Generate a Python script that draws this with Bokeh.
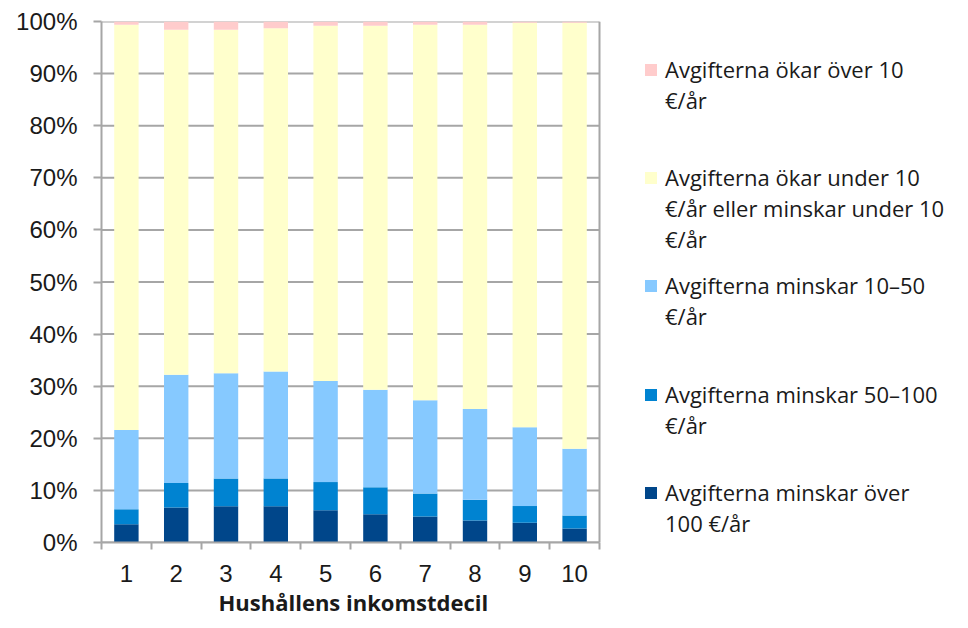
from bokeh.plotting import figure
from bokeh.models import (ColumnDataSource, FixedTicker, PrintfTickFormatter, Legend, LegendItem,
                          Range1d, Span, Title)
from bokeh.embed import file_html
from bokeh.resources import INLINE

deciles = [1, 2, 3, 4, 5, 6, 7, 8, 9, 10]
decile_labels = ["1", "2", "3", "4", "5", "6", "7", "8", "9", "10"]
over100 = [3.5, 6.7, 6.95, 6.95, 6.2, 5.4, 5.0, 4.2, 3.8, 2.7]
m50_100 = [2.9, 4.7, 5.35, 5.35, 5.4, 5.2, 4.4, 4.0, 3.2, 2.5]
m10_50 = [15.2, 20.8, 20.2, 20.5, 19.4, 18.7, 17.9, 17.4, 15.1, 12.8]
small = [77.8, 66.2, 65.9, 65.9, 68.2, 69.9, 72.1, 73.8, 77.65, 81.75]
inc10 = [0.6, 1.6, 1.6, 1.3, 0.8, 0.8, 0.6, 0.6, 0.25, 0.25]
y_ticks = [0, 10, 20, 30, 40, 50, 60, 70, 80, 90, 100]
x_title = "Hushållens inkomstdecil"

series_keys = ["over100", "m50_100", "m10_50", "small", "inc10"]
# legend text, one list of lines per series (bottom series first)
series_lines = [
    ["Avgifterna minskar över", "100 €/år"],
    ["Avgifterna minskar 50–100", "€/år"],
    ["Avgifterna minskar 10–50", "€/år"],
    ["Avgifterna ökar under 10", "€/år eller minskar under 10", "€/år"],
    ["Avgifterna ökar över 10", "€/år"],
]
colors = ["#00468A", "#0083D1", "#86C9FF", "#FFFFCC", "#FFCCCC"]

source = ColumnDataSource(dict(x=deciles, over100=over100, m50_100=m50_100,
                               m10_50=m10_50, small=small, inc10=inc10))

GRID = "#A6A6A6"
TXT = "#1A1A1A"
LEFT = 101
FRAME_TOP = 21
FRAME_H = 521
PLOT_W = 498           # width of the bar area
TOTAL_W = 952
FRAME_W = TOTAL_W - LEFT
x_lo, x_hi = 0.5, 10.5
x_end = x_lo + (x_hi - x_lo) * FRAME_W / PLOT_W

p = figure(frame_width=FRAME_W, frame_height=FRAME_H, output_backend="svg", toolbar_location=None,
           x_range=Range1d(x_lo, x_end), y_range=Range1d(0, 100),
           min_border_left=LEFT, min_border_top=FRAME_TOP,
           min_border_bottom=0, min_border_right=0)

# horizontal gridlines limited to the bar area
grid_src = ColumnDataSource(dict(y=y_ticks))
p.segment(x0=x_lo, x1=x_hi, y0="y", y1="y", line_color=GRID, line_width=2,
          source=grid_src, level="underlay")

rs = p.vbar_stack(series_keys, x="x", width=0.49, color=colors, line_color=None, source=source)
# invisible renderer used for continuation lines of legend labels
blank = p.vbar(x=[], top=[], width=0.5, fill_alpha=0, line_alpha=0)

p.outline_line_color = None
p.xgrid.visible = False
p.ygrid.visible = False
p.add_layout(Span(location=x_hi, dimension="height", line_color=GRID, line_width=2))

# y axis
p.yaxis.ticker = FixedTicker(ticks=y_ticks)
p.yaxis.formatter = PrintfTickFormatter(format="%d%%")
p.yaxis.axis_line_color = GRID
p.yaxis.axis_line_width = 2
p.yaxis.major_tick_line_color = GRID
p.yaxis.major_tick_line_width = 2
p.yaxis.major_tick_out = 8
p.yaxis.major_tick_in = 0
p.yaxis.minor_tick_line_color = None
p.yaxis.major_label_standoff = 16
p.yaxis.major_label_text_font = "Liberation Sans"
p.yaxis.major_label_text_font_size = "24px"
p.yaxis.major_label_text_color = TXT

# x axis
p.xaxis.bounds = (x_lo, x_hi)
p.xaxis.ticker = FixedTicker(ticks=deciles, minor_ticks=[0.5 + i for i in range(11)])
p.xaxis.major_label_overrides = {d: l for d, l in zip(deciles, decile_labels)}
p.xaxis.axis_line_color = GRID
p.xaxis.axis_line_width = 2
p.xaxis.major_tick_line_color = None
p.xaxis.minor_tick_line_color = GRID
p.xaxis.minor_tick_line_width = 2
p.xaxis.minor_tick_out = 7
p.xaxis.minor_tick_in = 0
p.xaxis.major_tick_out = 7
p.xaxis.major_label_standoff = 15
p.xaxis.major_label_text_font = "Liberation Sans"
p.xaxis.major_label_text_font_size = "24px"
p.xaxis.major_label_text_color = TXT

# axis title below the bar area (left-aligned with an offset so it centres under the bars)
xt = Title(text=x_title, align="left", offset=117, standoff=1,
           text_font="Open Sans", text_font_style="bold", text_font_size="22px", text_color=TXT)
p.add_layout(xt, "below")

# legend: one Legend per series, placed at the reference positions (screen px)
LINE_H = 31
first_line_centers = [492, 394, 285, 177, 69]   # y of each entry's first line
legend_x = 643 - LEFT
frame_bottom = FRAME_TOP + FRAME_H
for i in range(5):
    lines = series_lines[i]
    items = [LegendItem(label=lines[0], renderers=[rs[i]])]
    items += [LegendItem(label=ln, renderers=[blank]) for ln in lines[1:]]
    top = first_line_centers[i] - LINE_H / 2
    bottom = top + LINE_H * len(lines)
    lg = Legend(items=items, location=(legend_x, frame_bottom - bottom), orientation="vertical")
    lg.label_text_font = "Open Sans"
    lg.label_text_font_size = "22px"
    lg.label_text_color = TXT
    lg.glyph_width = 15
    lg.glyph_height = 15
    lg.label_standoff = 7
    lg.label_height = LINE_H
    lg.spacing = 0
    lg.padding = 0
    lg.margin = 0
    lg.border_line_color = None
    lg.background_fill_alpha = 0
    p.add_layout(lg)

open("out.html", "w").write(file_html(p, INLINE))
